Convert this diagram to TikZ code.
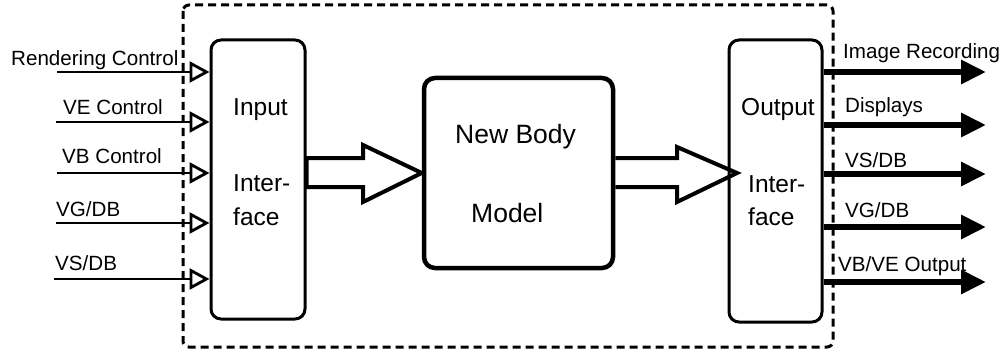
\documentclass[tikz,border=0pt]{standalone}
\usepackage{fontspec}
\setmainfont{Liberation Sans}
\usetikzlibrary{arrows.meta}
\tikzset{
  lbl/.style={anchor=base west, inner sep=0pt, font=\fontsize{20.6}{24}\selectfont},
  boxtxt/.style={anchor=base west, inner sep=0pt, font=\fontsize{24.5}{29}\selectfont},
  midtxt/.style={anchor=base west, inner sep=0pt, font=\fontsize{26.5}{31}\selectfont},
  iface/.style={draw, line width=3pt, rounded corners=10pt, inner sep=0pt},
  corebox/.style={draw, line width=4.5pt, rounded corners=11pt, inner sep=0pt},
  frame/.style={line width=3pt, dash pattern=on 8pt off 5pt, rounded corners=6pt},
  inarrow/.style={line width=2.5pt, -{Triangle[open, length=20pt, width=21pt, line width=2.8pt]}},
  outarrow/.style={line width=6pt, -{Triangle[length=25pt, width=23pt]}},
  bigarrow/.style={line width=4pt, line join=miter},
}
\begin{document}
\begin{tikzpicture}[x=1pt, y=-1pt]
\useasboundingbox (0,0) rectangle (1005,353);

% dashed system boundary
\draw[frame] (183,5) rectangle (833,347);

% blocks
\node[iface, minimum width=94pt, minimum height=279pt] (inbox) at (258,179.5) {};
\node[iface, minimum width=93pt, minimum height=282pt] (outbox) at (775.5,181) {};
\node[corebox, minimum width=189pt, minimum height=190pt] (core) at (518.5,173) {};

% block texts
\node[boxtxt] (inA) at (233,116) {Input};
\node[boxtxt] (inB) at (233,191) {Inter-};
\node[boxtxt] (inC) at (233,225) {face};
\node[boxtxt] (outA) at (741,116) {Output};
\node[boxtxt] (outB) at (748,192) {Inter-};
\node[boxtxt] (outC) at (748,225) {face};
\node[midtxt] (coreA) at (455,143) {New Body};
\node[midtxt] (coreB) at (471,222) {Model};

% hollow arrows between the blocks
\draw[bigarrow] (inbox.east |- 0,158) -- (363,158) -- (363,145) -- (core.west |- 0,173)
  -- (363,202) -- (363,187) -- (inbox.east |- 0,187) -- cycle;
\draw[bigarrow] (core.east |- 0,158) -- (677,158) -- (677,147) -- (737,173)
  -- (677,202) -- (677,187) -- (core.east |- 0,187);

% inputs
\coordinate (i1) at (57,72);
\coordinate (i2) at (56,122);
\coordinate (i3) at (57,173);
\coordinate (i4) at (56,223);
\coordinate (i5) at (54,279);
\foreach \c in {i1,i2,i3,i4,i5} \draw[inarrow] (\c) -- (inbox.west |- \c);
\node[lbl] (l1) at (11,66) {Rendering Control};
\node[lbl] (l2) at (63,114) {VE Control};
\node[lbl] (l3) at (62,164) {VB Control};
\node[lbl] (l4) at (56,216) {VG/DB};
\node[lbl] (l5) at (55,270) {VS/DB};

% outputs
\coordinate (o1) at (986,72);
\coordinate (o2) at (986,125);
\coordinate (o3) at (986,174);
\coordinate (o4) at (986,227);
\coordinate (o5) at (986,282);
\foreach \c in {o1,o2,o3,o4,o5} \draw[outarrow] (outbox.east |- \c) -- (\c);
\node[lbl] (r1) at (843,59) {Image Recording};
\node[lbl] (r2) at (845,113) {Displays};
\node[lbl] (r3) at (845,167) {VS/DB};
\node[lbl] (r4) at (845,217) {VG/DB};
\node[lbl] (r5) at (838,271) {VB/VE Output};
\end{tikzpicture}
\end{document}
